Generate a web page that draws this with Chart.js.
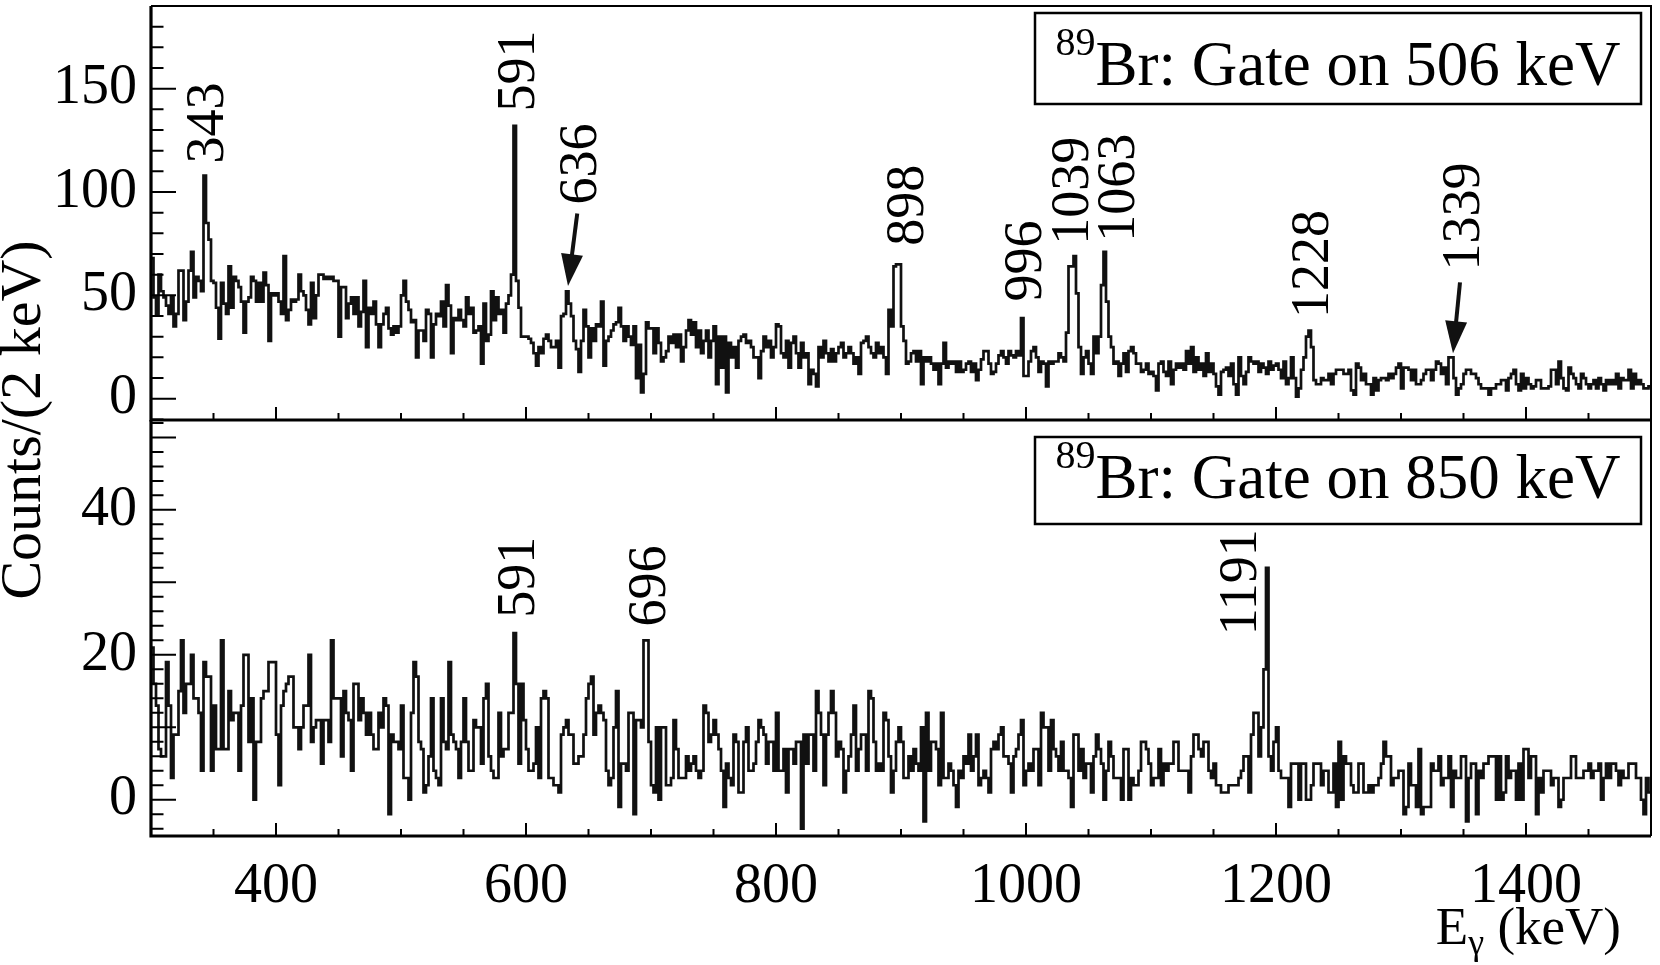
<!DOCTYPE html>
<html>
<head>
<meta charset="utf-8">
<script src="https://cdn.jsdelivr.net/npm/chart.js@4.4.1/dist/chart.umd.min.js"></script>
<style>
html,body{margin:0;padding:0;background:#fff;}
#wrap{position:relative;width:1660px;height:965px;background:#fff;}
#wrap canvas{position:absolute;left:0;top:0;}
</style>
</head>
<body>
<div id="wrap">
<canvas id="cTop" width="1660" height="965"></canvas>
<canvas id="cBot" width="1660" height="965"></canvas>
</div>
<script>
// ---------- data (2 keV bins from 300 keV to 1500 keV) ----------
const energyRangeKeV = [300, 1500];
const binWidthKeV = 2;

// 89Br, gate on 506 keV (counts per 2 keV bin)
const gate506Counts = [
 68,49,41,60,52,49,45,41,49,35,41,62,62,38,47,62,71,49,59,57,52,108,85,77,57,
 56,44,29,56,46,41,64,44,59,57,54,47,32,47,49,59,57,47,56,47,61,55,28,51,50,
 51,47,41,69,38,43,48,47,48,60,52,50,43,36,56,39,50,60,60,58,59,58,59,57,57,
 30,54,54,39,46,49,41,49,35,42,57,25,44,41,47,36,25,36,41,44,34,31,35,32,35,
 50,57,47,43,37,38,20,33,33,28,43,41,20,36,41,40,47,35,55,45,22,39,38,43,38,
 35,49,41,44,32,33,35,17,46,28,31,52,38,49,41,43,32,46,50,60,132,57,44,30,30,
 30,29,27,22,16,25,22,29,31,28,25,25,28,15,40,41,52,46,40,28,24,13,28,43,35,
 20,34,28,36,35,47,16,28,30,33,36,37,44,35,28,35,30,26,35,10,26,3,12,37,34,
 34,22,34,27,18,20,23,30,27,31,25,31,18,25,33,38,31,37,25,33,22,28,33,20,28,
 35,7,30,15,30,3,27,20,25,15,28,30,31,27,28,25,20,20,10,23,30,25,28,20,25,
 36,35,22,20,28,15,27,30,22,15,27,20,22,7,14,12,6,25,20,28,22,18,24,18,22,
 25,27,20,22,25,22,17,20,12,27,28,30,25,22,20,27,22,25,20,12,43,35,64,65,65,
 35,28,17,18,22,23,18,23,7,20,18,20,17,14,17,7,17,27,15,18,17,18,13,18,13,
 14,17,18,13,17,9,14,19,23,23,17,12,13,17,21,23,20,17,23,21,20,23,21,39,11,
 11,18,23,25,20,13,18,17,6,18,17,18,18,22,20,18,32,64,64,69,51,25,12,20,23,
 17,12,30,22,30,55,71,47,30,25,17,18,11,17,22,13,23,25,22,17,17,13,14,17,12,
 13,11,4,17,18,13,11,18,7,14,17,15,17,14,23,17,25,13,20,14,17,11,22,13,17,
 12,6,2,13,14,15,11,17,7,2,20,11,7,13,20,18,17,18,13,17,15,12,18,14,16,
 17,14,10,18,7,10,20,10,1,5,14,20,30,33,25,9,7,7,10,9,9,12,7,12,14,
 14,14,12,12,14,4,2,17,15,9,12,7,7,2,10,4,9,10,10,9,12,10,12,15,17,
 5,15,15,14,9,14,7,7,9,12,14,14,9,14,18,17,12,15,7,20,20,10,2,5,7,
 12,14,14,12,12,10,7,5,5,5,2,5,5,7,7,9,9,4,10,12,14,7,4,12,5,
 10,7,5,6,9,9,5,5,5,6,14,14,7,18,10,5,4,15,12,10,7,5,12,10,7,
 5,7,9,5,10,7,4,9,7,9,7,12,5,10,9,9,14,5,12,7,9,7,5,5,6
];

// 89Br, gate on 850 keV (counts per 2 keV bin)
const gate850Counts = [
 21,16,13,7,6,6,19,13,3,9,9,15,22,12,16,16,20,14,14,12,4,19,17,17,4,
 13,7,7,22,7,7,15,11,12,12,4,13,20,20,8,14,0,8,8,14,15,15,19,19,19,
 9,2,13,15,16,17,17,10,10,7,10,13,13,20,8,10,11,11,5,11,11,8,22,14,14,
 14,6,15,12,11,4,16,16,11,14,12,9,12,9,7,7,12,10,14,13,-2,9,8,8,7,
 13,3,3,0,12,19,17,8,7,1,2,6,14,4,3,2,14,8,7,19,9,8,7,3,8,
 14,8,4,4,11,10,10,5,14,16,6,4,3,3,12,6,7,7,12,12,23,16,5,16,11,
 7,4,4,5,10,3,14,15,14,3,3,2,2,1,9,10,11,9,9,5,5,6,6,9,14,
 16,17,9,12,13,12,11,4,2,3,10,15,-1,5,5,4,12,12,-2,11,11,10,22,22,8,
 2,1,10,0,10,10,2,2,3,11,7,3,3,3,6,4,5,6,4,3,4,13,12,8,9,
 11,9,7,4,-1,5,3,2,9,8,1,1,8,10,4,4,5,8,11,10,9,5,8,8,4,
 12,4,4,7,1,7,7,5,8,8,-4,9,5,9,9,4,15,12,9,2,9,12,15,12,6,
 8,7,1,4,6,9,13,4,7,9,9,4,15,14,8,4,5,4,12,11,6,1,4,8,10,
 8,3,3,6,4,7,5,4,10,-3,12,4,8,8,7,2,12,3,3,5,4,2,-1,4,3,
 6,5,9,4,6,9,2,3,4,3,1,7,8,7,9,10,6,6,5,1,6,7,9,11,2,
 4,5,4,7,7,2,12,10,10,4,11,7,6,4,8,4,4,3,-1,9,9,4,7,3,5,
 5,1,6,9,7,5,0,4,8,6,3,3,3,0,7,7,0,3,2,2,4,8,8,7,5,
 2,3,3,7,2,5,4,5,5,8,8,4,4,4,4,1,6,9,9,7,6,8,8,4,3,
 5,2,2,1,1,1,2,2,2,2,3,4,6,6,1,9,12,12,6,10,18,32,6,4,8,
 10,4,3,3,3,-1,5,5,5,0,5,5,0,0,2,5,5,5,2,4,4,1,1,5,-1,
 8,0,6,5,5,2,1,1,5,5,1,1,2,1,2,2,3,5,8,6,6,2,3,3,4,
 4,-2,-1,5,2,2,-1,7,-2,-1,-1,-1,5,4,4,6,2,3,3,6,-1,4,3,3,6,
 6,-3,3,5,5,-2,4,3,5,5,6,6,6,0,6,0,1,6,3,4,4,0,5,0,7,
 7,3,6,6,-2,3,1,4,4,4,2,3,3,-1,0,3,3,3,6,6,3,3,3,4,4,
 5,3,4,4,5,0,3,5,3,5,5,4,2,4,3,3,5,5,5,3,3,0,-2,3,1
];

const xTickLabels = [400, 600, 800, 1000, 1200, 1400];
const topYTickLabels = [0, 50, 100, 150];
const bottomYTickLabels = [0, 20, 40];

const topPeakNames = ['343','591','636','898','996','1039','1063','1228','1339'];
const bottomPeakNames = ['591','696','1191'];

// ---------- annotation placement (data coordinates: keV, counts) ----------
const topLabelAnchors = [[343.2,113.8],[592,139],[641.6,94],[903,74],[997.6,47],[1035.2,74.5],[1072,76],[1227,39],[1348,62]];
const topArrows = [[[641,89.6],[633.6,54.5]], [[1347.2,56.3],[1341.6,22]]];
const bottomLabelAnchors = [[592,25.1],[696.8,23.9],[1169.6,22.7]];

const SERIF = "'Liberation Serif', 'DejaVu Serif', serif";
Chart.defaults.font.family = SERIF;
Chart.defaults.color = '#000';

// bin i covers [edge_i, edge_i + 2 keV): point at the left edge, horizontal run to the next edge
function toSteps(counts) {
  const pts = counts.map((c, i) => ({x: energyRangeKeV[0] + i * binWidthKeV, y: c}));
  pts.push({x: energyRangeKeV[0] + counts.length * binWidthKeV, y: counts[counts.length - 1]});
  return pts;
}

function drawRotatedLabel(ctx, text, px, py, size) {
  ctx.save();
  ctx.translate(px, py);
  ctx.rotate(-Math.PI / 2);
  ctx.font = size + 'px ' + SERIF;
  ctx.textAlign = 'left';
  ctx.textBaseline = 'alphabetic';
  ctx.fillStyle = '#000';
  ctx.fillText(text, 0, 0.34 * size);
  ctx.restore();
}

function drawArrow(ctx, x0, y0, x1, y1) {
  const dx = x1 - x0, dy = y1 - y0, L = Math.hypot(dx, dy);
  const ux = dx / L, uy = dy / L;
  const headL = 32, headW = 11;
  const bx = x1 - ux * headL, by = y1 - uy * headL;
  ctx.save();
  ctx.strokeStyle = '#111'; ctx.fillStyle = '#111';
  ctx.lineWidth = 4;
  ctx.beginPath(); ctx.moveTo(x0, y0); ctx.lineTo(bx + ux * 4, by + uy * 4); ctx.stroke();
  ctx.beginPath();
  ctx.moveTo(x1, y1);
  ctx.lineTo(bx - uy * headW, by + ux * headW);
  ctx.lineTo(bx + uy * headW, by - ux * headW);
  ctx.closePath(); ctx.fill();
  ctx.restore();
}

function drawLegendBox(ctx, a, gate, topOff, h, textOff) {
  const left = a.right - 616, top = a.top + topOff, w = 606;
  ctx.save();
  ctx.fillStyle = '#fff';
  ctx.fillRect(left, top, w, h);
  ctx.strokeStyle = '#000'; ctx.lineWidth = 2.5;
  ctx.strokeRect(left, top, w, h);
  const mainFont = '63px ' + SERIF, supFont = '40px ' + SERIF;
  const main = 'Br: Gate on ' + gate + ' keV';
  ctx.font = supFont; const wSup = ctx.measureText('89').width;
  ctx.font = mainFont; const wMain = ctx.measureText(main).width;
  const x0 = left + (w - wSup - wMain) / 2;
  const base = top + h / 2 + textOff;
  ctx.fillStyle = '#000'; ctx.textBaseline = 'alphabetic'; ctx.textAlign = 'left';
  ctx.font = supFont; ctx.fillText('89', x0, base - 30);
  ctx.font = mainFont; ctx.fillText(main, x0 + wSup, base);
  ctx.restore();
}

function panelPlugin(cfg) {
  return {
    id: 'panel_' + cfg.name,
    afterDraw(chart) {
      const {ctx, chartArea: a, scales: {x, y}} = chart;
      ctx.save();
      // inward ticks
      ctx.strokeStyle = '#000'; ctx.lineWidth = 2;
      ctx.beginPath();
      const v0 = Math.ceil(cfg.yMin / cfg.yMinor) * cfg.yMinor;
      for (let v = v0; v <= cfg.yMax + 1e-6; v += cfg.yMinor) {
        const py = y.getPixelForValue(v);
        const len = (Math.abs(v) % cfg.yMajor === 0) ? 25 : 12.5;
        ctx.moveTo(a.left, py); ctx.lineTo(a.left + len, py);
      }
      for (let e = energyRangeKeV[0] + 50; e < energyRangeKeV[1]; e += 50) {
        const px = x.getPixelForValue(e);
        const len = (e % 200 === 0) ? 13 : 7;
        ctx.moveTo(px, a.bottom); ctx.lineTo(px, a.bottom - len);
      }
      ctx.stroke();
      // frame
      ctx.lineWidth = 2;
      ctx.beginPath();
      ctx.moveTo(a.left, a.top); ctx.lineTo(a.right, a.top); ctx.lineTo(a.right, a.bottom);
      ctx.stroke();
      ctx.lineWidth = 3.2;
      ctx.beginPath();
      ctx.moveTo(a.left, a.top); ctx.lineTo(a.left, a.bottom); ctx.lineTo(a.right, a.bottom);
      ctx.stroke();
      ctx.restore();

      drawLegendBox(ctx, a, cfg.gate, cfg.boxTop, cfg.boxH, cfg.textOff);
      // peak labels
      cfg.names.forEach((t, i) => {
        const [e, c] = cfg.anchors[i];
        drawRotatedLabel(ctx, t, x.getPixelForValue(e), y.getPixelForValue(c), 54);
      });
      (cfg.arrows || []).forEach(([p0, p1]) => {
        drawArrow(ctx, x.getPixelForValue(p0[0]), y.getPixelForValue(p0[1]),
                       x.getPixelForValue(p1[0]), y.getPixelForValue(p1[1]));
      });

      if (cfg.titles) {
        // y title
        ctx.save();
        ctx.translate(40, a.top);
        ctx.rotate(-Math.PI / 2);
        ctx.font = '58px ' + SERIF; ctx.fillStyle = '#000';
        ctx.textAlign = 'center'; ctx.textBaseline = 'alphabetic';
        ctx.fillText('Counts/(2 keV)', 0, 0);
        ctx.restore();
        // x title
        ctx.save();
        ctx.fillStyle = '#000'; ctx.textBaseline = 'alphabetic'; ctx.textAlign = 'left';
        const big = '53px ' + SERIF, small = '36px ' + SERIF;
        ctx.font = big; const wE = ctx.measureText('E').width; const wK = ctx.measureText(' (keV)').width;
        ctx.font = small; const wG = ctx.measureText('\u03b3').width;
        const right = 1621, base = 944;
        const xs = right - wE - wG - wK;
        ctx.font = big; ctx.fillText('E', xs, base);
        ctx.font = small; ctx.fillText('\u03b3', xs + wE, base + 10);
        ctx.font = big; ctx.fillText(' (keV)', xs + wE + wG, base);
        ctx.restore();
      }
    }
  };
}

function makePanel(canvasId, counts, cfg) {
  return new Chart(document.getElementById(canvasId), {
    type: 'line',
    data: {datasets: [{
      data: toSteps(counts), stepped: 'before', borderColor: '#111', borderWidth: 2.7,
      pointRadius: 0, pointHoverRadius: 0, fill: false, tension: 0
    }]},
    options: {
      responsive: false, animation: false, devicePixelRatio: 1,
      layout: {padding: cfg.padding},
      plugins: {legend: {display: false}, tooltip: {enabled: false}},
      events: [],
      scales: {
        x: {
          type: 'linear', min: energyRangeKeV[0], max: energyRangeKeV[1],
          display: cfg.showX,
          grid: {display: false, drawTicks: false}, border: {display: false},
          ticks: {font: {size: 56, family: SERIF}, color: '#000', padding: 18, maxRotation: 0, autoSkip: false,
                  callback: v => String(v)},
          afterBuildTicks: s => { s.ticks = xTickLabels.map(v => ({value: v})); },
          afterFit: s => {
            if (cfg.showX) s.height = 129;
            s.paddingLeft = 0; s.paddingRight = 0;
          }
        },
        y: {
          type: 'linear', min: cfg.yMin, max: cfg.yMax,
          grid: {display: false, drawTicks: false}, border: {display: false},
          ticks: {font: {size: 56, family: SERIF}, color: '#000', padding: 14, callback: v => String(v)},
          afterBuildTicks: s => { s.ticks = cfg.yTicks.map(v => ({value: v})); },
          afterFit: s => { s.width = 151; s.paddingTop = 0; s.paddingBottom = 0; }
        }
      }
    },
    plugins: [panelPlugin(cfg)]
  });
}

makePanel('cTop', gate506Counts, {
  name: 'top', showX: false, padding: {left: 0, right: 9, top: 6, bottom: 545},
  yMin: -10.3, yMax: 190, yTicks: topYTickLabels, yMinor: 10, yMajor: 50,
  names: topPeakNames, anchors: topLabelAnchors, arrows: topArrows,
  gate: '506', boxTop: 7, boxH: 91, textOff: 26, titles: false
});
makePanel('cBot', gate850Counts, {
  name: 'bot', showX: true, padding: {left: 0, right: 9, top: 420, bottom: 0},
  yMin: -5, yMax: 52.4, yTicks: bottomYTickLabels, yMinor: 2, yMajor: 10,
  names: bottomPeakNames, anchors: bottomLabelAnchors, arrows: [],
  gate: '850', boxTop: 17, boxH: 87, textOff: 17, titles: true
});
</script>
</body>
</html>
